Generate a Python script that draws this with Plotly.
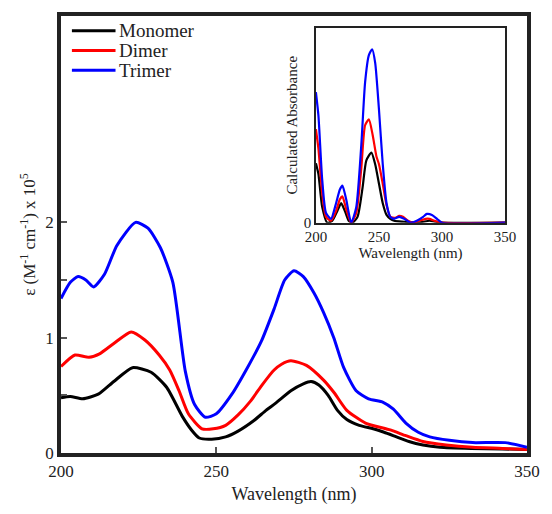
import plotly.graph_objects as go

# Main spectra (experimental)
mono_x = [200, 203, 207, 212, 217, 223, 229, 234, 239, 242, 244.5, 248.5, 253, 257, 262, 266, 269, 274, 278, 280.5, 283, 286, 289, 292, 296, 300.5, 304, 308, 312, 316.5, 322, 332, 342, 350]
mono_y = [0.48, 0.49, 0.47, 0.51, 0.62, 0.74, 0.70, 0.57, 0.32, 0.20, 0.13, 0.12, 0.14, 0.19, 0.28, 0.37, 0.43, 0.54, 0.60, 0.62, 0.59, 0.50, 0.37, 0.29, 0.24, 0.21, 0.18, 0.14, 0.10, 0.07, 0.05, 0.04, 0.035, 0.03]

dim_x = [200, 204.5, 209, 212.4, 217, 222.6, 227, 231.6, 235, 238, 241, 245.4, 249, 253, 257, 261, 265, 268.6, 271, 274, 279, 284.6, 288, 292, 298, 306, 311, 316.5, 324, 332.5, 342, 350]
dim_y = [0.75, 0.85, 0.83, 0.86, 0.95, 1.05, 0.98, 0.85, 0.72, 0.54, 0.34, 0.21, 0.21, 0.24, 0.33, 0.45, 0.60, 0.72, 0.77, 0.80, 0.76, 0.63, 0.52, 0.37, 0.26, 0.20, 0.15, 0.10, 0.07, 0.05, 0.04, 0.03]

tri_x = [200, 203, 205.5, 208, 210.5, 214, 218, 224, 228, 232, 236, 240, 243, 246.5, 250, 255, 260, 264.5, 268.6, 272, 275, 278, 281.4, 284.5, 287.8, 291, 295, 299, 303.7, 307, 311, 315, 318.7, 325, 332.5, 343, 350]
tri_y = [1.34, 1.48, 1.53, 1.50, 1.44, 1.55, 1.80, 2.00, 1.95, 1.78, 1.48, 0.71, 0.42, 0.31, 0.34, 0.51, 0.74, 0.97, 1.25, 1.50, 1.58, 1.53, 1.39, 1.22, 1.00, 0.74, 0.54, 0.47, 0.44, 0.38, 0.26, 0.18, 0.14, 0.11, 0.09, 0.09, 0.05]

# Inset (calculated absorbance)
in_mono_x = [200, 202, 205, 209, 213, 217, 220, 223, 226, 229, 233, 237, 240, 244, 247, 250, 253, 256, 259, 262, 270, 280, 285, 290, 295, 300, 350]
in_mono_y = [0.305, 0.25, 0.08, 0.0, 0.01, 0.06, 0.10, 0.06, 0.01, 0.0, 0.03, 0.18, 0.32, 0.36, 0.30, 0.20, 0.10, 0.04, 0.02, 0.01, 0.005, 0.0, 0.005, 0.01, 0.005, 0.0, 0.0]
in_dim_x = [200, 202, 205, 208, 212, 216, 219, 221, 224, 228, 232, 236, 239, 242, 245, 248, 250, 253, 256, 259, 263, 266, 269, 273, 277, 282, 287, 290, 294, 300, 350]
in_dim_y = [0.48, 0.38, 0.15, 0.03, 0.01, 0.06, 0.12, 0.135, 0.07, 0.0, 0.05, 0.28, 0.50, 0.53, 0.45, 0.34, 0.30, 0.20, 0.09, 0.03, 0.025, 0.035, 0.03, 0.01, 0.0, 0.01, 0.02, 0.02, 0.01, 0.0, 0.0]
in_tri_x = [200, 202, 205, 208, 212, 216, 219, 221, 224, 228, 232, 236, 239, 242, 244.6, 247, 250, 253, 256, 259, 262, 266, 270, 275, 280, 285, 288, 292, 296, 300, 350]
in_tri_y = [0.67, 0.55, 0.22, 0.05, 0.02, 0.10, 0.17, 0.19, 0.12, 0.0, 0.08, 0.40, 0.72, 0.86, 0.89, 0.82, 0.58, 0.30, 0.10, 0.03, 0.02, 0.03, 0.02, 0.0, 0.01, 0.03, 0.045, 0.04, 0.02, 0.0, 0.0]

names = ["Monomer", "Dimer", "Trimer"]
colors = ["#000000", "#ff0000", "#0000ff"]

FONT = "Liberation Serif, Times New Roman, Times, serif"

fig = go.Figure()
main_sets = [(mono_x, mono_y), (dim_x, dim_y), (tri_x, tri_y)]
for (xs, ys), n, c in zip(main_sets, names, colors):
    fig.add_trace(go.Scatter(x=xs, y=ys, name=n, mode="lines", showlegend=False,
                             line=dict(color=c, width=3, shape="spline", smoothing=0.6)))

inset_sets = [(in_mono_x, in_mono_y), (in_dim_x, in_dim_y), (in_tri_x, in_tri_y)]
for (xs, ys), n, c in zip(inset_sets, names, colors):
    fig.add_trace(go.Scatter(x=xs, y=ys, name=n, mode="lines", showlegend=False,
                             xaxis="x2", yaxis="y2",
                             line=dict(color=c, width=2.2, shape="spline", smoothing=0.6)))

# Manual legend (top-left, inside the frame)
leg_y = [0.966, 0.921, 0.876]
for n, c, yy in zip(names, colors, leg_y):
    fig.add_shape(type="line", xref="paper", yref="paper",
                  x0=0.0234, x1=0.117, y0=yy, y1=yy,
                  line=dict(color=c, width=3))
    fig.add_annotation(xref="paper", yref="paper", x=0.121, y=yy,
                       xanchor="left", yanchor="middle", showarrow=False,
                       text=n, font=dict(size=19, family=FONT, color="#222222"))

fig.update_layout(
    width=552, height=514,
    margin=dict(l=61, r=21, t=16, b=54),
    paper_bgcolor="white", plot_bgcolor="white",
    font=dict(family=FONT, color="#222222", size=17),
    showlegend=False,
    xaxis=dict(range=[200, 350], tickvals=[200, 250, 300, 350],
               showline=True, linecolor="#222222", linewidth=3.5, mirror=True,
               ticks="inside", ticklen=6, tickwidth=2, tickcolor="#555555",
               showgrid=False, zeroline=False,
               title=dict(text="Wavelength (nm)", font=dict(size=18, family=FONT), standoff=8),
               tickfont=dict(size=17, family=FONT)),
    yaxis=dict(range=[0, 3.79], tickvals=[0, 0.5, 1, 1.5, 2], ticktext=["0", "", "1", "", "2"],
               showline=True, linecolor="#222222", linewidth=3.5, mirror=True,
               ticks="inside", ticklen=6, tickwidth=2, tickcolor="#555555",
               showgrid=False, zeroline=False,
               title=dict(text="ε (M<sup>-1</sup> cm<sup>-1</sup>) x 10<sup>5</sup>", font=dict(size=17, family=FONT), standoff=6),
               tickfont=dict(size=17, family=FONT)),
    xaxis2=dict(domain=[0.547, 0.953], anchor="y2", range=[200, 350],
                tickvals=[200, 250, 300, 350],
                showline=True, linecolor="#222222", linewidth=1.5, mirror=True,
                ticks="", showgrid=False, zeroline=False,
                title=dict(text="Wavelength (nm)", font=dict(size=15, family=FONT), standoff=2),
                tickfont=dict(size=15, family=FONT)),
    yaxis2=dict(domain=[0.527, 0.973], anchor="x2", range=[0, 1.0],
                tickvals=[0], ticktext=["0"],
                showline=True, linecolor="#222222", linewidth=1.5, mirror=True,
                ticks="", showgrid=False, zeroline=False,
                title=dict(text="Calculated Absorbance", font=dict(size=15, family=FONT), standoff=2),
                tickfont=dict(size=15, family=FONT)),
)

fig.write_html("out.html")
